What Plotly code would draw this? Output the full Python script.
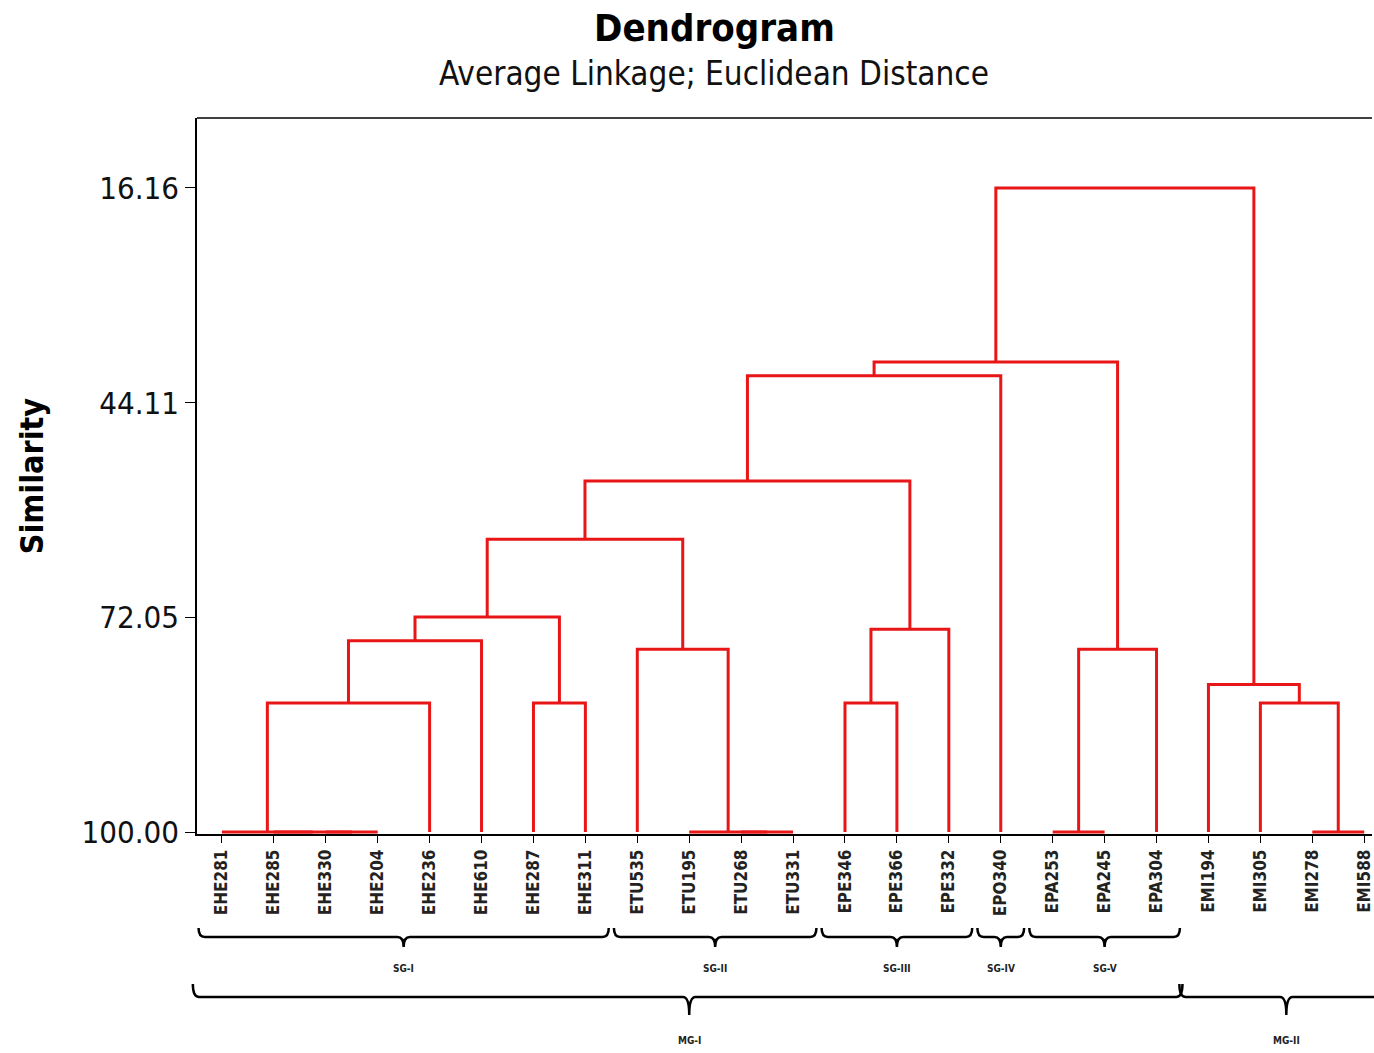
import plotly.graph_objects as go

# ---------------- data ----------------
leaves = ["EHE281", "EHE285", "EHE330", "EHE204", "EHE236", "EHE610", "EHE287", "EHE311",
          "ETU535", "ETU195", "ETU268", "ETU331", "EPE346", "EPE366", "EPE332", "EPO340",
          "EPA253", "EPA245", "EPA304", "EMI194", "EMI305", "EMI278", "EMI588"]

# merges in order; "mN" refers to the N-th merge
merge_left = ["EHE330", "EHE285", "EHE281", "ETU268", "ETU195", "EPA253", "EMI278",
              "m2", "EHE287", "EPE346", "EMI305", "EMI194", "ETU535", "m5", "m7", "m9",
              "m14", "m16", "m17", "m18", "m19", "m20"]
merge_right = ["EHE204", "m0", "m1", "ETU331", "m3", "EPA245", "EMI588",
               "EHE236", "EHE311", "EPE366", "m6", "m10", "m4", "EPA304", "EHE610", "EPE332",
               "m8", "m12", "m15", "EPO340", "m13", "m11"]
merge_similarity = [100.0, 100.0, 100.0, 100.0, 100.0, 100.0, 100.0,
                    83.2, 83.2, 83.2, 83.2, 80.8, 76.2, 76.2, 75.1, 73.6,
                    72.0, 61.9, 54.3, 40.6, 38.8, 16.16]

y_ticks = [16.16, 44.11, 72.05, 100.00]

sub_groups = ["SG-I", "SG-II", "SG-III", "SG-IV", "SG-V"]
sub_first = ["EHE281", "ETU535", "EPE346", "EPO340", "EPA253"]
sub_last = ["EHE311", "ETU331", "EPE332", "EPO340", "EPA304"]

main_groups = ["MG-I", "MG-II"]
main_first = ["EHE281", "EMI194"]
main_last = ["EPA304", "EMI588"]

# ---------------- layout geometry ----------------
W, H = 1374, 1053
M_L, M_T, M_R = 197, 118, 0
M_B = H - 834
PLOT_H = H - M_T - M_B
PLOT_W = W - M_L - M_R
X_RANGE = [-0.48, 22.15]


def py(page_px):  # page pixel y -> paper y
    return (H - M_B - page_px) / PLOT_H


def px_(page_px):  # page pixel x -> paper x
    return (page_px - M_L) / PLOT_W


def dx(v):  # data x -> paper x
    return (v - X_RANGE[0]) / (X_RANGE[1] - X_RANGE[0])


RED = "rgb(232,22,22)"

# ---------------- build dendrogram links ----------------
pos = {name: (i, 100.0) for i, name in enumerate(leaves)}
xs, ys = [], []
for k, (a, b, s) in enumerate(zip(merge_left, merge_right, merge_similarity)):
    xa, ha = pos[a]
    xb, hb = pos[b]
    xs += [xa, xa, xb, xb, None]
    ys += [ha, s, s, hb, None]
    pos["m%d" % k] = ((xa + xb) / 2.0, s)

fig = go.Figure()
fig.add_trace(go.Scatter(x=xs, y=ys, mode="lines",
                         line=dict(color=RED, width=3),
                         hoverinfo="skip", showlegend=False))

FONT = "DejaVu Sans Condensed, DejaVu Sans, sans-serif"

shapes = []
annotations = []

# top frame line
shapes.append(dict(type="line", xref="paper", yref="paper", x0=0, x1=1, y0=1, y1=1,
                   line=dict(color="black", width=1.5)))


def bracket(x0, x1, xc, yh_px, up_px, tip_px):
    x0, x1, xc = dx(x0), dx(x1), dx(xc)
    yh = py(yh_px)
    yu = py(yh_px - up_px)
    yt = py(yh_px + tip_px)
    r = dx(0.12) - dx(0)
    p = (f"M {x0},{yu} Q {x0},{yh} {x0 + r},{yh} L {xc - r},{yh} Q {xc},{yh} {xc},{yt} "
         f"Q {xc},{yh} {xc + r},{yh} L {x1 - r},{yh} Q {x1},{yh} {x1},{yu}")
    return dict(type="path", xref="paper", yref="paper", path=p,
                line=dict(color="black", width=2.5))


idx = {n: i for i, n in enumerate(leaves)}
for name, f, l in zip(sub_groups, sub_first, sub_last):
    a, b = idx[f], idx[l]
    x0, x1 = a - 0.45, b + 0.45
    xc = (a + b) / 2.0
    shapes.append(bracket(x0, x1, xc, 937, 9, 10))
    annotations.append(dict(x=dx(xc), y=py(969), xref="paper", yref="paper",
                            text="<b>%s</b>" % name,
                            showarrow=False, font=dict(family=FONT, size=10, color="#222"),
                            xanchor="center", yanchor="middle"))

for name, f, l in zip(main_groups, main_first, main_last):
    a, b = idx[f], idx[l]
    x0, x1 = a - 0.56, b + 0.5
    xc = (a + b) / 2.0
    shapes.append(bracket(x0, x1, xc, 997, 13, 18))
    annotations.append(dict(x=dx(xc), y=py(1040), xref="paper", yref="paper",
                            text="<b>%s</b>" % name,
                            showarrow=False, font=dict(family=FONT, size=10, color="#222"),
                            xanchor="center", yanchor="middle"))

# titles
annotations.append(dict(x=px_(715), y=py(28), xref="paper", yref="paper",
                        text="<b>Dendrogram</b>", showarrow=False,
                        font=dict(family=FONT, size=38, color="black"),
                        xanchor="center", yanchor="middle"))
annotations.append(dict(x=px_(715), y=py(74), xref="paper", yref="paper",
                        text="Average Linkage; Euclidean Distance", showarrow=False,
                        font=dict(family=FONT, size=33, color="#111"),
                        xanchor="center", yanchor="middle"))
annotations.append(dict(x=px_(32), y=py(476), xref="paper", yref="paper",
                        text="<b>Similarity</b>", showarrow=False, textangle=-90,
                        font=dict(family=FONT, size=32, color="black"),
                        xanchor="center", yanchor="middle"))

fig.update_layout(
    width=W, height=H,
    margin=dict(l=M_L, t=M_T, r=M_R, b=M_B, pad=0),
    paper_bgcolor="white", plot_bgcolor="white",
    showlegend=False,
    shapes=shapes, annotations=annotations,
    xaxis=dict(range=X_RANGE, tickmode="array",
               tickvals=list(range(len(leaves))),
               ticktext=["<b>%s</b>" % t for t in leaves],
               tickangle=-90, ticks="outside", ticklen=7, tickwidth=1, tickcolor="black",
               ticklabeloverflow="allow",
               showline=True, linecolor="black", linewidth=1.5,
               showgrid=False, zeroline=False, layer="below traces",
               tickfont=dict(family=FONT, size=17, color="#222")),
    yaxis=dict(range=[100.26, 7.05], tickmode="array", tickvals=y_ticks,
               ticktext=["%.2f" % v for v in y_ticks],
               ticks="outside", ticklen=10, tickwidth=1, tickcolor="black",
               showline=True, linecolor="black", linewidth=1.5,
               showgrid=False, zeroline=False, layer="below traces",
               tickfont=dict(family=FONT, size=31, color="#111")),
)

fig.write_html("out.html", config={"responsive": False, "displayModeBar": False},
               post_script="document.body.style.margin='0px';"
                           "document.body.style.overflow='hidden';")
